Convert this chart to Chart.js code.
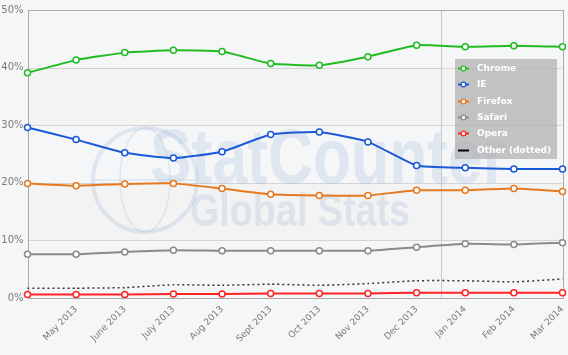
<!DOCTYPE html>
<html>
<head>
<meta charset="utf-8">
<script src="https://cdn.jsdelivr.net/npm/chart.js@4/dist/chart.umd.min.js"></script>
<style>
  html, body { margin: 0; padding: 0; background: #f5f6f8; }
  #wrap { width: 568px; height: 355px; position: relative; }
</style>
</head>
<body>
<div id="wrap"><canvas id="chart" width="568" height="355"></canvas></div>
<script>
// Browser share, Apr 2013 - Mar 2014
const months = ['Apr 2013', 'May 2013', 'June 2013', 'July 2013', 'Aug 2013', 'Sept 2013',
    'Oct 2013', 'Nov 2013', 'Dec 2013', 'Jan 2014', 'Feb 2014', 'Mar 2014'];
const chrome  = [39.1, 41.3, 42.6, 43.0, 42.8, 40.7, 40.4, 41.9, 43.9, 43.6, 43.8, 43.6];
const ie      = [29.6, 27.5, 25.2, 24.3, 25.4, 28.4, 28.8, 27.1, 23.0, 22.6, 22.4, 22.4];
const firefox = [19.9, 19.5, 19.8, 19.9, 19.0, 18.0, 17.8, 17.8, 18.7, 18.7, 19.0, 18.5];
const safari  = [7.6, 7.6, 8.0, 8.3, 8.2, 8.2, 8.2, 8.2, 8.8, 9.4, 9.3, 9.6];
const opera   = [0.6, 0.6, 0.6, 0.7, 0.7, 0.8, 0.8, 0.8, 0.9, 0.9, 0.9, 0.9];
const other   = [1.7, 1.7, 1.8, 2.3, 2.2, 2.4, 2.2, 2.5, 3.0, 3.0, 2.8, 3.3];
const yTicks  = [0, 10, 20, 30, 40, 50];

const FONT = '"DejaVu Sans", Verdana, sans-serif';

function series(label, data, color) {
    return {
        label: label, data: data,
        borderColor: color, backgroundColor: '#fff',
        borderWidth: 2, tension: 0.15,
        pointRadius: 3, pointBorderWidth: 1.5,
        pointBackgroundColor: '#fff', pointBorderColor: color
    };
}

const datasets = [
    series('Chrome', chrome, '#22bb22'),
    series('IE', ie, '#1a5ad8'),
    series('Firefox', firefox, '#e6781e'),
    series('Safari', safari, '#8a8a8a'),
    series('Opera', opera, '#ff2424'),
    {
        label: 'Other (dotted)', data: other,
        borderColor: '#333', borderWidth: 1.5, borderDash: [2, 3],
        pointRadius: 0, tension: 0.15, isOther: true
    }
];

// grey bands, watermark, year separator
const background = {
    id: 'background',
    beforeDatasetsDraw(chart) {
        const { ctx, chartArea: a, scales: { x, y } } = chart;
        ctx.save();
        ctx.fillStyle = '#f3f3f3';
        [[10, 20], [30, 40]].forEach(([lo, hi]) => {
            const t = y.getPixelForValue(hi), b = y.getPixelForValue(lo);
            ctx.fillRect(a.left, t, a.right - a.left, b - t);
        });
        // horizontal grid
        ctx.strokeStyle = '#d4d4d4';
        ctx.lineWidth = 1;
        yTicks.forEach(v => {
            const py = Math.round(y.getPixelForValue(v)) + 0.5;
            ctx.beginPath(); ctx.moveTo(a.left, py); ctx.lineTo(a.right, py); ctx.stroke();
        });
        // watermark
        ctx.globalAlpha = 0.22;
        ctx.strokeStyle = '#8fabd2';
        ctx.lineWidth = 4;
        ctx.beginPath(); ctx.arc(145, 180, 52, 0, Math.PI * 2); ctx.stroke();
        ctx.lineWidth = 1.5;
        ctx.beginPath(); ctx.ellipse(145, 180, 25, 52, 0, 0, Math.PI * 2); ctx.stroke();
        ctx.beginPath(); ctx.moveTo(93, 180); ctx.lineTo(197, 180); ctx.stroke();
        ctx.fillStyle = '#8fabd2';
        ctx.save();
        ctx.translate(150, 183);
        ctx.scale(0.8, 1);
        ctx.font = 'bold 78px "Liberation Sans", Arial, sans-serif';
        ctx.fillText('StatCounter', 0, 0);
        ctx.restore();
        ctx.save();
        ctx.translate(190, 226);
        ctx.scale(0.82, 1);
        ctx.font = 'bold 46px "Liberation Sans", Arial, sans-serif';
        ctx.fillText('Global Stats', 0, 0);
        ctx.restore();
        ctx.globalAlpha = 1;
        // year separator
        const sx = Math.round(x.getPixelForValue(8.5)) + 0.5;
        ctx.strokeStyle = '#c8c8c8';
        ctx.lineWidth = 1;
        ctx.beginPath(); ctx.moveTo(sx, a.top); ctx.lineTo(sx, a.bottom); ctx.stroke();
        // frame
        ctx.strokeStyle = '#aaaaaa';
        ctx.strokeRect(Math.round(a.left) + 0.5, Math.round(a.top) + 0.5,
            Math.round(a.right - a.left), Math.round(a.bottom - a.top));
        ctx.restore();
    }
};

// legend box in the plot
const boxLegend = {
    id: 'boxLegend',
    afterDraw(chart) {
        const ctx = chart.ctx;
        const bx = 455, by = 59, bw = 102, bh = 100, row = 16.3;
        ctx.save();
        ctx.fillStyle = 'rgba(175,175,175,0.72)';
        ctx.fillRect(bx, by, bw, bh);
        ctx.font = 'bold 9px ' + FONT;
        ctx.textBaseline = 'middle';
        chart.data.datasets.forEach((ds, i) => {
            const cy = Math.round(by + 9 + i * row) + 0.5;
            ctx.strokeStyle = ds.isOther ? '#000' : ds.borderColor;
            ctx.lineWidth = 2;
            ctx.beginPath(); ctx.moveTo(bx + 3, cy); ctx.lineTo(bx + 14, cy); ctx.stroke();
            if (!ds.isOther) {
                ctx.fillStyle = '#fff';
                ctx.lineWidth = 1.2;
                ctx.beginPath(); ctx.arc(bx + 8.5, cy, 2.3, 0, Math.PI * 2); ctx.fill(); ctx.stroke();
            }
            ctx.fillStyle = '#ffffff';
            ctx.fillText(ds.label, bx + 22, cy);
        });
        ctx.restore();
    }
};

new Chart(document.getElementById('chart'), {
    type: 'line',
    data: { labels: months, datasets: datasets },
    plugins: [background, boxLegend],
    options: {
        responsive: false,
        animation: false,
        layout: { padding: { top: 8, right: 4, left: 0, bottom: 0 } },
        plugins: { legend: { display: false }, tooltip: { enabled: false } },
        scales: {
            x: {
                offset: false,
                grid: { display: false, drawTicks: false },
                border: { display: false },
                afterFit: s => { s.height = 57; s.paddingLeft = 0; s.paddingRight = 0; },
                ticks: {
                    autoSkip: false, minRotation: 45, maxRotation: 45,
                    color: '#7a7a7a', font: { family: FONT, size: 9 },
                    padding: 6,
                    callback: (v, i) => i === 0 ? '' : months[i]
                }
            },
            y: {
                min: 0, max: 50,
                grid: { display: false, drawTicks: false },
                border: { display: false },
                afterFit: s => { s.width = 27.5; },
                ticks: {
                    stepSize: 10, padding: 4,
                    color: '#7a7a7a', font: { family: FONT, size: 10 },
                    callback: v => v + '%'
                }
            }
        }
    }
});
</script>
</body>
</html>
